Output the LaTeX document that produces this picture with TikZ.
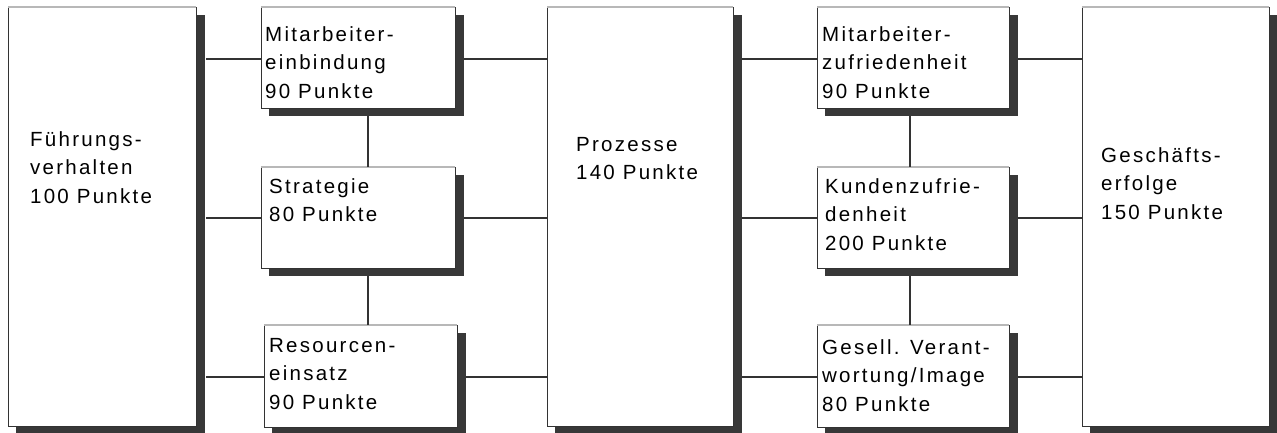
\documentclass[tikz,border=0pt]{standalone}
\usepackage{fontspec}
\setmainfont[LetterSpace=11]{Liberation Sans}
\usetikzlibrary{calc}
\definecolor{shadowc}{HTML}{383838}
\definecolor{linec}{HTML}{333333}
\definecolor{topc}{HTML}{B8B8B8}
\tikzset{
  boxnode/.style={draw=linec, line width=1.1pt, fill=white, rectangle, inner sep=0pt, anchor=north west},
  conn/.style={draw=linec, line width=1.3pt},
  lbl/.style={anchor=north west, inner sep=0pt, align=left, font=\fontsize{20.5}{28.5}\selectfont, text=black},
}
\newcommand\shbox[5]{%
  \fill[shadowc] (#2+8,#3+8) rectangle (#4+9,#5+8);
  \node[boxnode, minimum width={#4-#2}, minimum height={#5-#3}] (#1) at (#2,#3) {};
  \draw[topc, line width=1.4pt] (#2,#3) -- (#4,#3);
}
\begin{document}
\begin{tikzpicture}[x=1pt,y=-1pt]
\useasboundingbox[fill=white] (0,0) rectangle (1277,432);
% boxes
\shbox{A}{8}{7}{196}{426}
\shbox{B1}{261}{7}{455}{108}
\shbox{B2}{261}{167}{455}{268}
\shbox{B3}{264}{325}{457}{427}
\shbox{P}{547}{7}{733}{426}
\shbox{C1}{817}{7}{1009}{108}
\shbox{C2}{817}{167}{1009}{268}
\shbox{C3}{817}{325}{1009}{427}
\shbox{G}{1082}{7}{1269}{426}
% connectors
\draw[conn] (206,59) -- (B1.west |- 0,59) (464,59) -- (P.west |- 0,59);
\draw[conn] (206,218) -- (B2.west |- 0,218) (464,218) -- (P.west |- 0,218);
\draw[conn] (206,377) -- (B3.west |- 0,377) (466,377) -- (P.west |- 0,377);
\draw[conn] (742,59) -- (C1.west |- 0,59) (1018,59) -- (G.west |- 0,59);
\draw[conn] (742,218) -- (C2.west |- 0,218) (1018,218) -- (G.west |- 0,218);
\draw[conn] (742,377) -- (C3.west |- 0,377) (1018,377) -- (G.west |- 0,377);
\draw[conn] (368,116) -- (368,167) (368,276) -- (368,325);
\draw[conn] (910,116) -- (910,167) (910,276) -- (910,325);
% labels
\node[lbl] (tA) at (30,131) {Führungs-\\verhalten\\100 Punkte};
\node[lbl] (tB1) at (265,26) {Mitarbeiter-\\einbindung\\90 Punkte};
\node[lbl] (tB2) at (269,178) {Strategie\\80 Punkte};
\node[lbl] (tB3) at (269,338) {Resourcen-\\einsatz\\90 Punkte};
\node[lbl] (tP) at (576,137) {Prozesse\\140 Punkte};
\node[lbl] (tC1) at (822,26) {Mitarbeiter-\\zufriedenheit\\90 Punkte};
\node[lbl] (tC2) at (825,178) {Kundenzufrie-\\denheit\\200 Punkte};
\node[lbl] (tC3) at (822,339) {Gesell. Verant-\\wortung/Image\\80 Punkte};
\node[lbl] (tG) at (1101,147) {Geschäfts-\\erfolge\\150 Punkte};
\end{tikzpicture}
\end{document}
